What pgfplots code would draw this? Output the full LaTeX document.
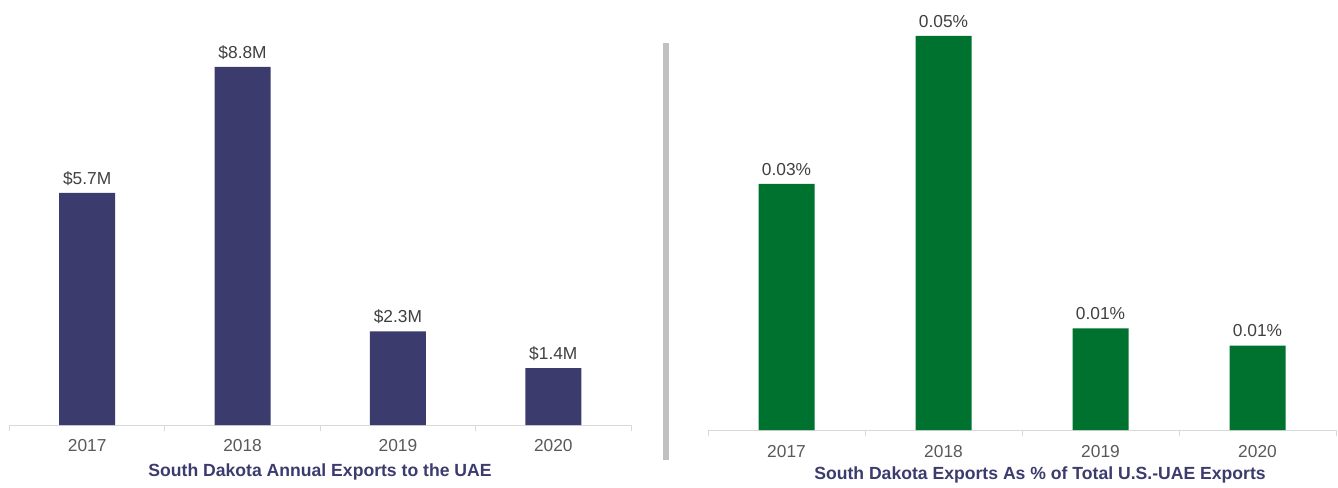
\documentclass[border=0pt]{standalone}
\usepackage{pgfplots}
\pgfplotsset{compat=1.18}
\usepackage{fontspec}
\setmainfont{Liberation Sans}
\definecolor{navybar}{HTML}{3C3B6E}
\definecolor{greenbar}{HTML}{007230}
\definecolor{titlecol}{HTML}{3C3B6E}
\definecolor{tickcol}{HTML}{595959}
\definecolor{valcol}{HTML}{404040}
\definecolor{axcol}{HTML}{D9D9D9}
\definecolor{sepcol}{HTML}{C0C0C0}
\pgfplotsset{
  mybar/.style={
    scale only axis,
    ybar, bar width=42pt,
    xmin=-0.5, xmax=3.5,
    ymin=0,
    hide y axis,
    axis x line*=bottom,
    axis line style={axcol, line width=0.75pt, -},
    xtick={0,1,2,3},
    xticklabels={2017,2018,2019,2020},
    major tick length=0pt,
    minor xtick={-0.5,0.5,1.5,2.5,3.5},
    minor tick length=4.5pt,
    tick align=outside,
    tick style={axcol, line width=0.75pt},
    ticklabel style={font=\fontsize{13}{15}\selectfont, text=tickcol},
    /pgf/number format/assume math mode=true,
    nodes near coords style={font=\fontsize{13}{15}\selectfont, text=valcol, anchor=base, yshift=6.5pt},
    clip=false,
  }
}
\begin{document}
\begin{tikzpicture}
\path (0,0) rectangle (1003.5pt,363pt);
\begin{axis}[mybar,
  at={(7.125pt,44.25pt)}, anchor=south west,
  width=466.125pt, height=303.75pt,
  ymax=9.95,
  xticklabel style={anchor=base, yshift=-19.5pt},
  point meta=y,
  nodes near coords={\$\pgfmathprintnumber[fixed,precision=1,fixed zerofill]{\pgfplotspointmeta}M},
]
\addplot[fill=navybar, draw=none] coordinates {(0,5.7) (1,8.8) (2,2.3) (3,1.4)};
\end{axis}
\begin{axis}[mybar,
  at={(531pt,40.5pt)}, anchor=south west,
  width=471pt, height=307.5pt,
  ymax=0.052,
  xticklabel style={anchor=base, yshift=-20.25pt},
  point meta=y,
  nodes near coords={\pgfmathprintnumber[fixed,precision=2,fixed zerofill]{\pgfplotspointmeta}\%},
]
\addplot[fill=greenbar, draw=none] coordinates {(0,0.0312) (1,0.05) (2,0.0129) (3,0.0107)};
\end{axis}
\fill[sepcol] (497pt,18pt) rectangle (502pt,330.75pt);
\node[font=\bfseries\fontsize{13.2}{15}\selectfont, text=titlecol] at (240pt,9.2pt) {South Dakota Annual Exports to the UAE};
\node[font=\bfseries\fontsize{13.2}{15}\selectfont, text=titlecol] at (780pt,7pt) {South Dakota Exports As \% of Total U.S.-UAE Exports};
\end{tikzpicture}
\end{document}
